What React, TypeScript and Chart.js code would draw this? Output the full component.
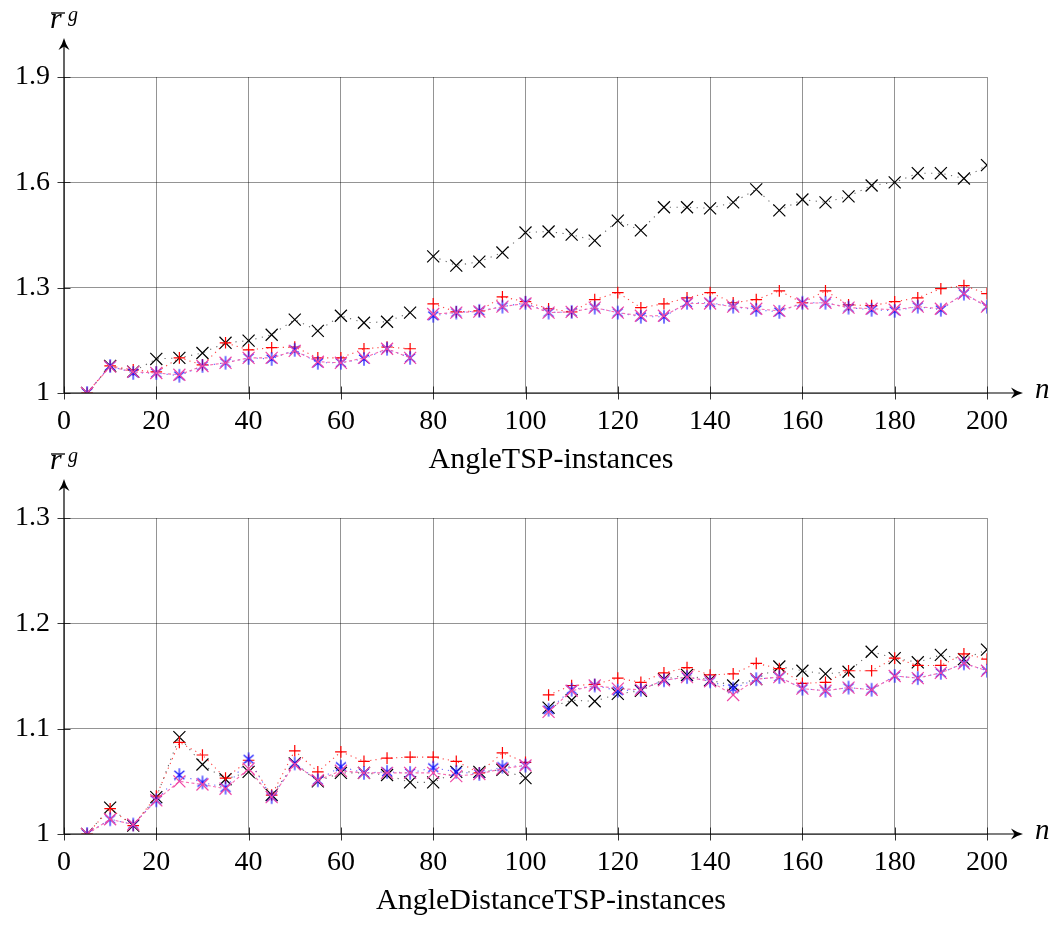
import React, { useEffect, useRef } from "react";
import { Chart, registerables } from "chart.js";
Chart.register(...registerables);

// ---------- data ----------
const nValues = [5, 10, 15, 20, 25, 30, 35, 40, 45, 50, 55, 60, 65, 70, 75, 80, 85, 90, 95, 100,
  105, 110, 115, 120, 125, 130, 135, 140, 145, 150, 155, 160, 165, 170, 175, 180, 185, 190, 195, 200];
const xTickValues = [0, 20, 40, 60, 80, 100, 120, 140, 160, 180, 200];
const topYTickValues = [1, 1.3, 1.6, 1.9];
const bottomYTickValues = [1, 1.1, 1.2, 1.3];
const topSplitAfter = 75;
const bottomSplitAfter = 100;
const topTitle = "AngleTSP-instances";
const bottomTitle = "AngleDistanceTSP-instances";
const xAxisLabel = "n";

const angleBlack = [1.0, 1.077, 1.061, 1.097, 1.1, 1.114, 1.143, 1.149, 1.166, 1.209, 1.177, 1.22, 1.2, 1.203, 1.229,
  1.389, 1.363, 1.374, 1.4, 1.457, 1.46, 1.451, 1.434, 1.491, 1.463, 1.529, 1.529, 1.526, 1.543, 1.58,
  1.52, 1.551, 1.543, 1.56, 1.591, 1.6, 1.626, 1.626, 1.611, 1.649];
const angleRed = [1.0, 1.077, 1.066, 1.06, 1.1, 1.08, 1.143, 1.123, 1.129, 1.131, 1.1, 1.1, 1.126, 1.131, 1.126,
  1.254, 1.231, 1.234, 1.274, 1.26, 1.24, 1.231, 1.266, 1.286, 1.243, 1.254, 1.271, 1.286, 1.257, 1.266,
  1.291, 1.257, 1.291, 1.251, 1.249, 1.26, 1.271, 1.297, 1.306, 1.283];
const angleBlue = [1.0, 1.077, 1.057, 1.057, 1.049, 1.077, 1.086, 1.1, 1.097, 1.123, 1.086, 1.086, 1.097, 1.126, 1.1,
  1.22, 1.229, 1.234, 1.246, 1.257, 1.229, 1.231, 1.243, 1.229, 1.217, 1.217, 1.257, 1.257, 1.246, 1.237,
  1.231, 1.257, 1.257, 1.243, 1.237, 1.234, 1.246, 1.237, 1.283, 1.246];
const anglePink = [1.0, 1.075, 1.06, 1.057, 1.052, 1.077, 1.086, 1.1, 1.1, 1.12, 1.089, 1.086, 1.1, 1.126, 1.1,
  1.225, 1.229, 1.232, 1.246, 1.255, 1.229, 1.231, 1.243, 1.229, 1.22, 1.22, 1.255, 1.255, 1.246, 1.24,
  1.234, 1.255, 1.257, 1.243, 1.24, 1.237, 1.246, 1.24, 1.283, 1.246];

const distBlack = [1.0, 1.025, 1.008, 1.035, 1.092, 1.066, 1.052, 1.059, 1.037, 1.067, 1.05, 1.058, 1.058, 1.056, 1.049,
  1.049, 1.059, 1.059, 1.061, 1.053, 1.12, 1.127, 1.126, 1.133, 1.136, 1.147, 1.151, 1.146, 1.141, 1.147,
  1.159, 1.155, 1.152, 1.154, 1.173, 1.167, 1.163, 1.17, 1.166, 1.175];
const distRed = [1.0, 1.024, 1.008, 1.036, 1.087, 1.075, 1.053, 1.07, 1.037, 1.079, 1.059, 1.078, 1.069, 1.072, 1.073,
  1.073, 1.069, 1.058, 1.077, 1.068, 1.132, 1.141, 1.142, 1.148, 1.144, 1.153, 1.158, 1.151, 1.152, 1.162,
  1.157, 1.143, 1.144, 1.155, 1.155, 1.167, 1.16, 1.16, 1.171, 1.166];
const distBlue = [1.0, 1.014, 1.009, 1.032, 1.056, 1.049, 1.044, 1.071, 1.035, 1.067, 1.051, 1.064, 1.058, 1.059, 1.058,
  1.063, 1.059, 1.057, 1.064, 1.065, 1.118, 1.137, 1.141, 1.136, 1.137, 1.146, 1.149, 1.145, 1.138, 1.147,
  1.149, 1.138, 1.136, 1.139, 1.137, 1.15, 1.148, 1.153, 1.162, 1.155];
const distPink = [1.0, 1.014, 1.009, 1.032, 1.05, 1.047, 1.043, 1.062, 1.035, 1.066, 1.051, 1.06, 1.058, 1.058, 1.058,
  1.058, 1.055, 1.057, 1.062, 1.065, 1.116, 1.136, 1.141, 1.138, 1.137, 1.146, 1.149, 1.145, 1.132, 1.147,
  1.149, 1.138, 1.136, 1.139, 1.137, 1.15, 1.148, 1.153, 1.162, 1.155];

// ---------- styling ----------
const SERIF = '"Liberation Serif", "Times New Roman", serif';
const CANVAS_W = 1056;
const CANVAS_H = 486;
const BOTTOM_OFFSET = 441;
const TITLE_CX = 551;

function buildPoints(vals: number[], splitAfter: number) {
  const pts: { x: number; y: number | null }[] = [];
  nValues.forEach((n, i) => {
    pts.push({ x: n, y: vals[i] });
    if (n === splitAfter) pts.push({ x: n + 2.5, y: null });
  });
  return pts;
}

function makeAsterisk(color: string) {
  const c = document.createElement("canvas");
  c.width = 16;
  c.height = 16;
  const g = c.getContext("2d")!;
  g.strokeStyle = color;
  g.lineWidth = 1.2;
  g.beginPath();
  g.moveTo(8, 1.2);
  g.lineTo(8, 14.8);
  const a = 6.5;
  const ang = (40 * Math.PI) / 180;
  const dx = a * Math.cos(ang);
  const dy = a * Math.sin(ang);
  g.moveTo(8 - dx, 8 - dy);
  g.lineTo(8 + dx, 8 + dy);
  g.moveTo(8 - dx, 8 + dy);
  g.lineTo(8 + dx, 8 - dy);
  g.stroke();
  return c;
}

function drawArrowHead(ctx: CanvasRenderingContext2D, x: number, y: number, dir: "right" | "up") {
  ctx.save();
  ctx.translate(x, y);
  if (dir === "up") ctx.rotate(-Math.PI / 2);
  ctx.beginPath();
  ctx.moveTo(0, 0);
  ctx.quadraticCurveTo(-6, -1.5, -12, -5.5);
  ctx.lineTo(-8.5, 0);
  ctx.lineTo(-12, 5.5);
  ctx.quadraticCurveTo(-6, 1.5, 0, 0);
  ctx.closePath();
  ctx.fillStyle = "#000";
  ctx.fill();
  ctx.restore();
}

function makeDecor(title: string) {
  return {
    id: "decor",
    afterDraw(chart: any) {
      const ctx: CanvasRenderingContext2D = chart.ctx;
      const { left, bottom } = chart.chartArea;
      const xs = chart.scales.x;
      const ys = chart.scales.y;
      ctx.save();
      // tick marks
      ctx.strokeStyle = "rgba(30,30,30,0.9)";
      ctx.lineWidth = 1;
      ctx.beginPath();
      xs.ticks.forEach((t: any) => {
        const p = Math.round(xs.getPixelForValue(t.value)) + 0.5;
        ctx.moveTo(p, bottom - 6.5);
        ctx.lineTo(p, bottom + 6.5);
      });
      ys.ticks.forEach((t: any) => {
        const p = Math.round(ys.getPixelForValue(t.value)) + 0.5;
        ctx.moveTo(left - 6.5, p);
        ctx.lineTo(left + 6.5, p);
      });
      ctx.stroke();
      // axis lines
      const tipX = 1023;
      const tipY = 38;
      ctx.strokeStyle = "#000";
      ctx.lineWidth = 1.2;
      ctx.beginPath();
      ctx.moveTo(left, bottom);
      ctx.lineTo(tipX - 7, bottom);
      ctx.moveTo(left, bottom);
      ctx.lineTo(left, tipY + 7);
      ctx.stroke();
      drawArrowHead(ctx, tipX, bottom, "right");
      drawArrowHead(ctx, left, tipY, "up");
      // axis labels
      ctx.fillStyle = "#000";
      ctx.textBaseline = "alphabetic";
      ctx.textAlign = "left";
      ctx.font = `italic 29px ${SERIF}`;
      ctx.fillText(xAxisLabel, 1035, bottom + 5);
      // r-bar^g
      ctx.font = `italic 30px ${SERIF}`;
      ctx.fillText("r", 50, tipY - 10);
      ctx.lineWidth = 1.3;
      ctx.beginPath();
      ctx.moveTo(51, tipY - 25);
      ctx.lineTo(65, tipY - 25);
      ctx.stroke();
      ctx.font = `italic 20px ${SERIF}`;
      ctx.fillText("g", 68, tipY - 17);
      // title
      ctx.font = `30px ${SERIF}`;
      ctx.textAlign = "center";
      ctx.fillText(title, TITLE_CX, 468);
      ctx.restore();
    },
  };
}

function makeConfig(series: number[][], split: number, yTicks: number[], title: string): any {
  const asterisk = makeAsterisk("rgba(20,20,255,1)");
  const styles = [
    { color: "rgba(0,0,0,0.6)", dash: [1.2, 5.5], point: "crossRot", r: 8.5, pc: "#000", order: 3 },
    { color: "rgba(255,0,0,0.75)", dash: [1.2, 4], point: "cross", r: 5.8, pc: "#ff0000", order: 2 },
    { color: "rgba(40,40,255,0.7)", dash: [1.2, 5], point: asterisk, r: 7, pc: "rgba(20,20,255,1)", order: 1 },
    { color: "rgba(245,90,170,0.9)", dash: [3, 2.5], point: "crossRot", r: 8.5, pc: "rgb(240,70,165)", order: 0 },
  ];
  const datasets = series.map((vals, i) => ({
    data: buildPoints(vals, split),
    borderColor: styles[i].color,
    borderWidth: 1.1,
    borderDash: styles[i].dash,
    pointStyle: styles[i].point,
    pointRadius: styles[i].r,
    pointBorderColor: styles[i].pc,
    pointBackgroundColor: styles[i].pc,
    pointBorderWidth: 1.2,
    fill: false,
    tension: 0,
    spanGaps: false,
    order: styles[i].order,
  }));
  const gridStyle = { color: "rgba(0,0,0,0.42)", lineWidth: 1, drawTicks: false };
  return {
    type: "line",
    data: { datasets },
    plugins: [makeDecor(title)],
    options: {
      animation: false,
      responsive: false,
      devicePixelRatio: 1,
      layout: { padding: { left: 0, right: 69, top: 77, bottom: 0 } },
      plugins: { legend: { display: false }, tooltip: { enabled: false }, title: { display: false } },
      scales: {
        x: {
          type: "linear",
          min: 0,
          max: 200,
          afterBuildTicks: (s: any) => {
            s.ticks = xTickValues.map((v) => ({ value: v }));
          },
          afterFit: (s: any) => {
            s.height = 93;
          },
          grid: gridStyle,
          border: { display: false },
          ticks: {
            color: "#000",
            font: { family: SERIF, size: 28 },
            padding: 12,
            maxRotation: 0,
            autoSkip: false,
            callback: (v: any) => String(v),
          },
        },
        y: {
          type: "linear",
          min: yTicks[0],
          max: yTicks[yTicks.length - 1],
          afterBuildTicks: (s: any) => {
            s.ticks = yTicks.map((v) => ({ value: v }));
          },
          afterFit: (s: any) => {
            s.width = 64;
          },
          grid: gridStyle,
          border: { display: false },
          ticks: {
            color: "#000",
            font: { family: SERIF, size: 28 },
            padding: 14,
            autoSkip: false,
            callback: (v: any) => String(v),
          },
        },
      },
    },
  };
}

function ChartCanvas(props: { series: number[][]; split: number; yTicks: number[]; title: string; top: number }) {
  const ref = useRef<HTMLCanvasElement>(null);
  useEffect(() => {
    if (!ref.current) return;
    const chart = new Chart(ref.current, makeConfig(props.series, props.split, props.yTicks, props.title));
    return () => chart.destroy();
  }, []);
  return (
    <canvas
      ref={ref}
      width={CANVAS_W}
      height={CANVAS_H}
      style={{ position: "absolute", left: 0, top: props.top, width: CANVAS_W, height: CANVAS_H }}
    />
  );
}

export default function App() {
  return (
    <div style={{ position: "absolute", left: 0, top: 0, width: 1056, height: 927, background: "#fff" }}>
      <ChartCanvas
        series={[angleBlack, angleRed, angleBlue, anglePink]}
        split={topSplitAfter}
        yTicks={topYTickValues}
        title={topTitle}
        top={0}
      />
      <ChartCanvas
        series={[distBlack, distRed, distBlue, distPink]}
        split={bottomSplitAfter}
        yTicks={bottomYTickValues}
        title={bottomTitle}
        top={BOTTOM_OFFSET}
      />
    </div>
  );
}
